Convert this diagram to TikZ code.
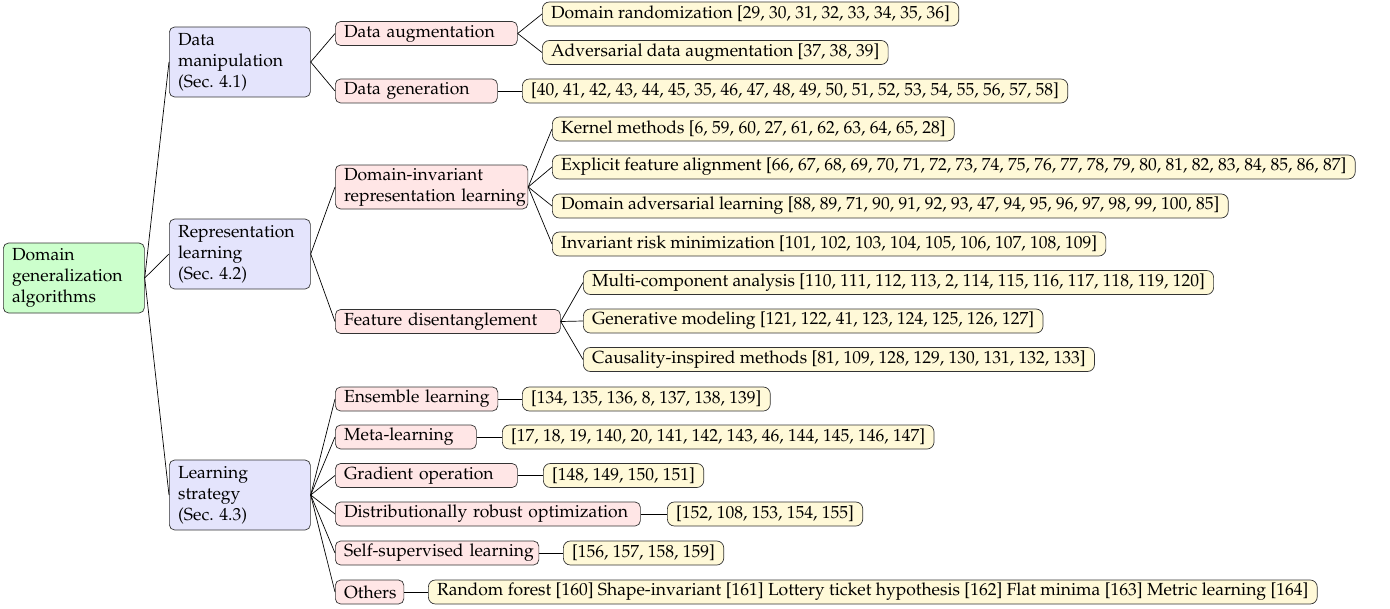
\documentclass[tikz,border=0pt]{standalone}
\usepackage[T1]{fontenc}
\usepackage{mathpazo}
\usepackage{tikz}
\usepackage{color}
\definecolor{mygreen}{RGB}{204,255,204}
\definecolor{myblue}{RGB}{228,228,252}
\definecolor{mypink}{RGB}{255,230,230}
\definecolor{myyellow}{RGB}{255,249,216}
\newdimen\pxu \pxu=0.5714pt
\hyphenpenalty=10000
\tikzset{
    common/.style={anchor=west, draw=black!80, rectangle, rounded corners=3pt, inner xsep=5pt, inner ysep=0pt, align=left},
    top/.style={common, fill=mygreen, text width=123.5\pxu, minimum height=70\pxu},
    sec/.style={common, fill=myblue, text width=123.5\pxu, minimum height=70\pxu},
    cat/.style={common, fill=mypink, text width=#1\pxu, minimum height=24\pxu},
    leaf/.style={common, fill=myyellow, rounded corners=4pt, minimum height=24\pxu}
}
\begin{document}
\begin{tikzpicture}[x=\pxu, y=-\pxu]
    \useasboundingbox (0,0) rectangle (1390,608);
    % root and sections
    \node[top] (dga) at (3,278) {Domain\\generalization\\algorithms};
    \node[sec] (dm) at (169,62) {Data\\manipulation\\(Sec.\ 4.1)};
    \node[sec] (rl) at (169,254) {Representation\\learning\\(Sec.\ 4.2)};
    \node[sec] (ls) at (169,495) {Learning\\strategy\\(Sec.\ 4.3)};
    % categories
    \node[cat=164.5] (da) at (335,33.5) {Data augmentation};
    \node[cat=144.5] (dg) at (335,91) {Data generation};
    \node[cat=175, minimum height=44\pxu] (dirl) at (335,187) {Domain-invariant\\\mbox{representation learning}};
    \node[cat=207.5] (fd) at (335,321.5) {Feature disentanglement};
    \node[cat=145] (el) at (335,399) {\mbox{Ensemble learning}};
    \node[cat=123.5] (ml) at (335,437) {Meta-learning};
    \node[cat=164.5] (go) at (335,475.5) {Gradient operation};
    \node[cat=287.5] (dro) at (335,514) {Distributionally robust optimization};
    \node[cat=186] (ssl) at (335,553) {\mbox{Self-supervised learning}};
    \node[cat=51] (oth) at (335,592) {Others};
    % references
    \node[leaf] (dr) at (542,14) {Domain randomization [29, 30, 31, 32, 33, 34, 35, 36]};
    \node[leaf] (ada) at (542,52.5) {Adversarial data augmentation [37, 38, 39]};
    \node[leaf] (dgr) at (522,91) {[40, 41, 42, 43, 44, 45, 35, 46, 47, 48, 49, 50, 51, 52, 53, 54, 55, 56, 57, 58]};
    \node[leaf] (km) at (552,129) {Kernel methods [6, 59, 60, 27, 61, 62, 63, 64, 65, 28]};
    \node[leaf] (efa) at (552,167) {Explicit feature alignment [66, 67, 68, 69, 70, 71, 72, 73, 74, 75, 76, 77, 78, 79, 80, 81, 82, 83, 84, 85, 86, 87]};
    \node[leaf] (dal) at (552,206) {Domain adversarial learning [88, 89, 71, 90, 91, 92, 93, 47, 94, 95, 96, 97, 98, 99, 100, 85]};
    \node[leaf] (irm) at (552,244) {Invariant risk minimization [101, 102, 103, 104, 105, 106, 107, 108, 109]};
    \node[leaf] (mca) at (583,282.5) {Multi-component analysis [110, 111, 112, 113, 2, 114, 115, 116, 117, 118, 119, 120]};
    \node[leaf] (gm) at (583,321) {Generative modeling [121, 122, 41, 123, 124, 125, 126, 127]};
    \node[leaf] (cim) at (583,359.5) {Causality-inspired methods [81, 109, 128, 129, 130, 131, 132, 133]};
    \node[leaf] (elr) at (522,399) {[134, 135, 136, 8, 137, 138, 139]};
    \node[leaf] (mlr) at (502,437) {[17, 18, 19, 140, 20, 141, 142, 143, 46, 144, 145, 146, 147]};
    \node[leaf] (gor) at (543,475.5) {[148, 149, 150, 151]};
    \node[leaf] (dror) at (667,514) {[152, 108, 153, 154, 155]};
    \node[leaf] (sslr) at (563,553) {[156, 157, 158, 159]};
    \node[leaf] (othr) at (428,592) {Random forest [160] Shape-invariant [161] Lottery ticket hypothesis [162] Flat minima [163] Metric learning [164]};

    \foreach \from/\to in {dga/dm, dga/rl, dga/ls, dm/da, dm/dg, rl/dirl, rl/fd,
        ls/el, ls/ml, ls/go, ls/dro, ls/ssl, ls/oth, da/dr, da/ada, dg/dgr,
        dirl/km, dirl/efa, dirl/dal, dirl/irm, fd/mca, fd/gm, fd/cim,
        el/elr, ml/mlr, go/gor, dro/dror, ssl/sslr, oth/othr}
        \draw (\from.east) -- (\to.west);
\end{tikzpicture}
\end{document}
